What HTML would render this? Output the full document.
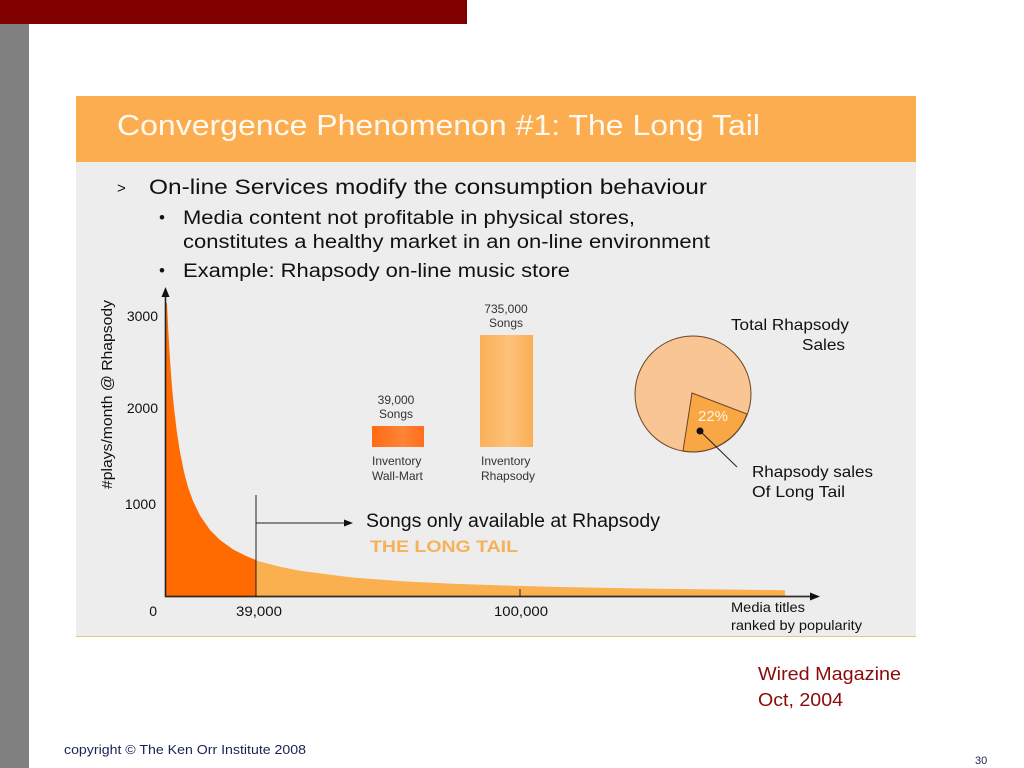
<!DOCTYPE html>
<html><head><meta charset="utf-8">
<style>
html,body{margin:0;padding:0;background:#fff;width:1024px;height:768px;overflow:hidden}
svg{display:block}
text{font-family:"Liberation Sans",Arial,sans-serif}
</style></head>
<body>
<svg width="1024" height="768" viewBox="0 0 1024 768" xmlns="http://www.w3.org/2000/svg">
<defs>
<linearGradient id="gw" x1="0" x2="1" y1="0" y2="0">
<stop offset="0" stop-color="#FF6A12"/><stop offset="0.6" stop-color="#FF8438"/><stop offset="1" stop-color="#FF6E1A"/>
</linearGradient>
<linearGradient id="gr" x1="0" x2="1" y1="0" y2="0">
<stop offset="0" stop-color="#FBB058"/><stop offset="0.55" stop-color="#FDC27A"/><stop offset="1" stop-color="#FBAE55"/>
</linearGradient>
</defs>
<rect x="0" y="0" width="1024" height="768" fill="#ffffff"/>
<rect x="0" y="0" width="467" height="24" fill="#800000"/>
<rect x="0" y="24" width="29" height="744" fill="#808080"/>

<!-- panel -->
<rect x="76" y="96" width="840" height="66" fill="#FBAD4F"/>
<rect x="76" y="162" width="840" height="475" fill="#EDEDED"/>
<line x1="76" y1="636.5" x2="916" y2="636.5" stroke="#E9C77E" stroke-width="1"/>

<text x="117" y="135" font-size="29" fill="#FFF9F0" textLength="643" lengthAdjust="spacingAndGlyphs">Convergence Phenomenon #1: The Long Tail</text>

<text x="117" y="193" font-size="15" fill="#111">&gt;</text>
<text x="149" y="194" font-size="21" fill="#111" textLength="558" lengthAdjust="spacingAndGlyphs">On-line Services modify the consumption behaviour</text>
<text x="159" y="223" font-size="17" fill="#111">•</text>
<text x="183" y="224" font-size="19" fill="#111" textLength="452" lengthAdjust="spacingAndGlyphs">Media content not profitable in physical stores,</text>
<text x="183" y="248" font-size="19" fill="#111" textLength="527" lengthAdjust="spacingAndGlyphs">constitutes a healthy market in an on-line environment</text>
<text x="159" y="276" font-size="17" fill="#111">•</text>
<text x="183" y="277" font-size="19" fill="#111" textLength="387" lengthAdjust="spacingAndGlyphs">Example: Rhapsody on-line music store</text>

<!-- long tail curve -->
<path d="M166,596 L166,303 L167,303 L168,325 L169,343 L170,360 L172,387 L174,408 L177,433 L180,452 L184,472 L188,487 L193,501 L200,515.5 L210,530 L220,540 L233,549.4 L245,555.5 L256,560 L256,596 Z" fill="#FF6B00"/>
<path d="M256,596 L256,560.5 L280,566.8 L300,570.8 L350,577.3 L400,581.1 L450,583.6 L500,585.4 L550,586.7 L600,587.8 L650,588.6 L700,589.3 L750,589.8 L785,590.2 L785,596 Z" fill="#FBB04F"/>

<!-- axes -->
<line x1="165.5" y1="597" x2="165.5" y2="294" stroke="#222" stroke-width="1.6"/>
<polygon points="165.5,287 161.5,297 169.5,297" fill="#111"/>
<line x1="165" y1="596.5" x2="812" y2="596.5" stroke="#3a2a1e" stroke-width="1.8"/>
<polygon points="820,596.5 810,592.5 810,600.5" fill="#111"/>

<!-- 39,000 marker and arrow -->
<line x1="256" y1="495" x2="256" y2="597" stroke="#222" stroke-width="1"/>
<line x1="256" y1="523" x2="346" y2="523" stroke="#222" stroke-width="1"/>
<polygon points="353,523 344,519.5 344,526.5" fill="#111"/>
<line x1="520" y1="589" x2="520" y2="597" stroke="#222" stroke-width="1"/>

<!-- y labels -->
<text x="158" y="321" font-size="14" fill="#111" text-anchor="end">3000</text>
<text x="158" y="413" font-size="14" fill="#111" text-anchor="end">2000</text>
<text x="156" y="509" font-size="14" fill="#111" text-anchor="end">1000</text>
<text x="157" y="616" font-size="14" fill="#111" text-anchor="end">0</text>
<text x="236" y="616" font-size="14" fill="#111" textLength="46" lengthAdjust="spacingAndGlyphs">39,000</text>
<text x="494" y="616" font-size="14" fill="#111" textLength="54" lengthAdjust="spacingAndGlyphs">100,000</text>
<text transform="translate(112,489) rotate(-90)" font-size="15" fill="#111" textLength="189" lengthAdjust="spacingAndGlyphs">#plays/month @ Rhapsody</text>

<text x="731" y="612" font-size="14" fill="#111" textLength="74" lengthAdjust="spacingAndGlyphs">Media titles</text>
<text x="731" y="630" font-size="14" fill="#111" textLength="131" lengthAdjust="spacingAndGlyphs">ranked by popularity</text>

<text x="366" y="527" font-size="19" fill="#111" textLength="294" lengthAdjust="spacingAndGlyphs">Songs only available at Rhapsody</text>
<text x="370" y="552" font-size="17" font-weight="bold" fill="#F5B258" textLength="148" lengthAdjust="spacingAndGlyphs">THE LONG TAIL</text>

<!-- bars -->
<rect x="372" y="426" width="52" height="21" fill="url(#gw)"/>
<rect x="480" y="335" width="53" height="112" fill="url(#gr)"/>
<text x="396" y="404" font-size="12" fill="#333" text-anchor="middle">39,000</text>
<text x="396" y="418" font-size="12" fill="#333" text-anchor="middle">Songs</text>
<text x="506" y="313" font-size="12" fill="#333" text-anchor="middle">735,000</text>
<text x="506" y="327" font-size="12" fill="#333" text-anchor="middle">Songs</text>
<text x="372" y="465" font-size="12" fill="#333">Inventory</text>
<text x="372" y="480" font-size="12" fill="#333">Wall-Mart</text>
<text x="481" y="465" font-size="12" fill="#333">Inventory</text>
<text x="481" y="480" font-size="12" fill="#333">Rhapsody</text>

<!-- pie -->
<circle cx="693" cy="394" r="58" fill="#F9C594" stroke="#6b4525" stroke-width="1"/>
<path d="M692,393 L747,414 A58,58 0 0,1 683,451 Z" fill="#F8A744" stroke="#6b4525" stroke-width="1"/>
<text x="698" y="421" font-size="15" fill="#FFF4E4">22%</text>
<line x1="700" y1="431" x2="737" y2="467" stroke="#222" stroke-width="1"/>
<circle cx="700" cy="431" r="3.5" fill="#111"/>
<text x="731" y="330" font-size="16" fill="#111" textLength="118" lengthAdjust="spacingAndGlyphs">Total Rhapsody</text>
<text x="802" y="350" font-size="16" fill="#111" textLength="43" lengthAdjust="spacingAndGlyphs">Sales</text>
<text x="752" y="477" font-size="16" fill="#111" textLength="121" lengthAdjust="spacingAndGlyphs">Rhapsody sales</text>
<text x="752" y="497" font-size="16" fill="#111" textLength="93" lengthAdjust="spacingAndGlyphs">Of Long Tail</text>

<!-- footer -->
<text x="758" y="680" font-size="18" fill="#8B0A0A" textLength="143" lengthAdjust="spacingAndGlyphs">Wired Magazine</text>
<text x="758" y="706" font-size="18" fill="#8B0A0A" textLength="85" lengthAdjust="spacingAndGlyphs">Oct, 2004</text>
<text x="64" y="754" font-size="13" fill="#1a2255" textLength="242" lengthAdjust="spacingAndGlyphs">copyright © The Ken Orr Institute 2008</text>
<text x="975" y="764" font-size="11" fill="#1a2255">30</text>
</svg>
</body></html>
